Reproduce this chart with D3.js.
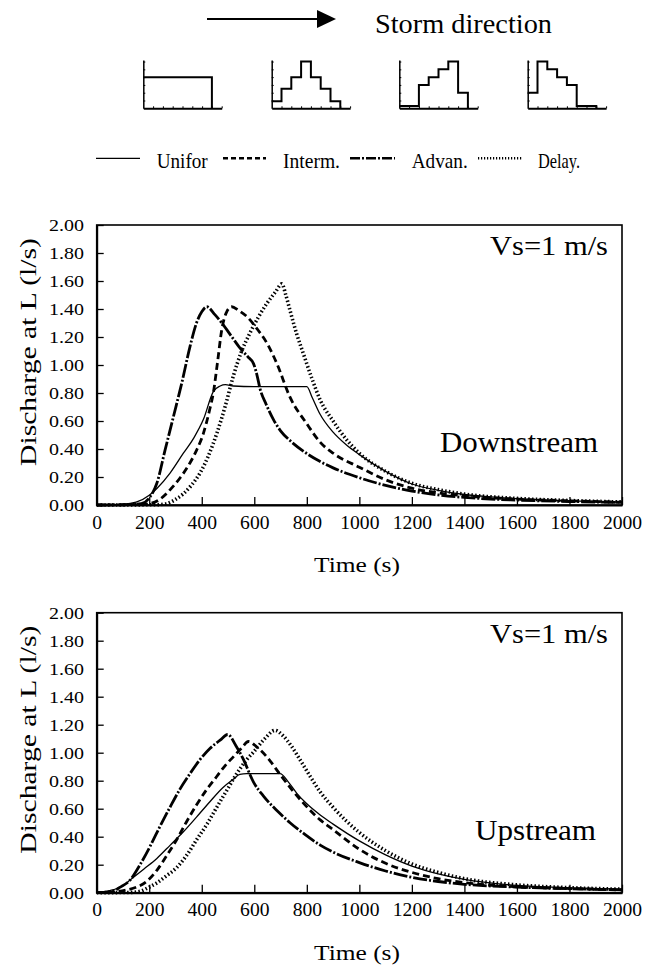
<!DOCTYPE html>
<html>
<head>
<meta charset="utf-8">
<script src="https://cdn.jsdelivr.net/npm/d3@7"></script>
<style>
  body { margin: 0; background: #fff; }
  text { font-family: "Liberation Serif", "Times New Roman", Times, serif; fill: #000; }
</style>
</head>
<body>
<div id="canvas"></div>
<script>
// tick values
var xTicks = [0, 200, 400, 600, 800, 1000, 1200, 1400, 1600, 1800, 2000];
var yTicks = [0, 0.2, 0.4, 0.6, 0.8, 1.0, 1.2, 1.4, 1.6, 1.8, 2.0];
var legendNames = ["Unifor", "Interm.", "Advan.", "Delay."];

// rainfall patterns (hyetographs), 7 intervals each
var hyetoUnifor = [4, 4, 4, 4, 4, 4, 4];
var hyetoInterm = [0.9, 2.5, 4, 6, 4, 2.5, 0.9];
var hyetoAdvan = [0.3, 0.3, 3, 4, 5, 6, 2];
var hyetoDelay = [2, 6, 5, 4, 3, 0.3, 0.3];

// downstream panel, [time s, discharge l/s]
var downUnifor = [[0,0],[100,0.005],[150,0.02],[200,0.07],[230,0.12],[280,0.23],[330,0.37],[370,0.48],[406,0.61],[444,0.81],[470,0.85],[490,0.86],[520,0.85],[600,0.845],[700,0.845],[800,0.845],[820,0.77],[850,0.65],[900,0.52],[950,0.43],[1000,0.36],[1100,0.24],[1200,0.15],[1300,0.105],[1400,0.075],[1500,0.058],[1600,0.046],[1800,0.03],[2000,0.02]];
var downInterm = [[0,0],[150,0.003],[200,0.01],[240,0.04],[280,0.11],[320,0.2],[355,0.3],[380,0.39],[406,0.51],[430,0.68],[444,0.8],[460,1.02],[476,1.25],[495,1.38],[514,1.416],[540,1.39],[575,1.34],[610,1.26],[650,1.15],[686,1.01],[736,0.77],[800,0.58],[850,0.45],[900,0.37],[1000,0.27],[1100,0.18],[1200,0.12],[1300,0.087],[1400,0.066],[1600,0.042],[1800,0.03],[2000,0.02]];
var downAdvan = [[0,0],[120,0.003],[170,0.01],[200,0.05],[229,0.155],[260,0.39],[292,0.63],[325,0.88],[355,1.13],[380,1.3],[400,1.38],[419,1.416],[450,1.36],[482,1.286],[515,1.2],[546,1.12],[575,1.06],[597,1.01],[610,0.93],[622,0.83],[645,0.72],[673,0.61],[700,0.53],[736,0.46],[790,0.38],[851,0.31],[900,0.265],[1000,0.195],[1100,0.14],[1200,0.1],[1300,0.072],[1400,0.054],[1600,0.035],[1800,0.025],[2000,0.018]];
var downDelay = [[0,0],[230,0.002],[267,0.01],[300,0.04],[330,0.08],[360,0.14],[394,0.23],[425,0.35],[457,0.51],[490,0.71],[520,0.92],[550,1.09],[584,1.23],[615,1.34],[648,1.44],[680,1.52],[705,1.58],[720,1.5],[736,1.39],[760,1.23],[787,1.08],[820,0.9],[851,0.75],[900,0.6],[950,0.47],[1000,0.37],[1100,0.24],[1200,0.155],[1300,0.11],[1400,0.078],[1600,0.047],[1800,0.032],[2000,0.022]];

// upstream panel
var upUnifor = [[0,0],[50,0.015],[100,0.05],[127,0.09],[180,0.17],[229,0.245],[280,0.34],[330,0.435],[380,0.54],[431,0.65],[480,0.75],[520,0.81],[545,0.845],[571,0.85],[698,0.85],[730,0.79],[762,0.71],[800,0.635],[851,0.555],[900,0.49],[1000,0.37],[1100,0.27],[1200,0.19],[1300,0.135],[1400,0.095],[1600,0.052],[1800,0.035],[2000,0.025]];
var upInterm = [[0,0],[60,0.005],[114,0.02],[152,0.04],[190,0.08],[229,0.16],[265,0.26],[305,0.38],[340,0.5],[381,0.63],[420,0.74],[457,0.83],[490,0.91],[520,0.97],[550,1.03],[578,1.08],[610,1.04],[648,0.97],[700,0.84],[750,0.72],[787,0.64],[851,0.52],[900,0.45],[1000,0.31],[1100,0.21],[1200,0.145],[1300,0.1],[1400,0.072],[1600,0.042],[1800,0.03],[2000,0.02]];
var upAdvan = [[0,0],[50,0.005],[90,0.04],[127,0.09],[165,0.2],[203,0.33],[240,0.47],[279,0.61],[317,0.74],[355,0.85],[393,0.95],[431,1.03],[470,1.09],[499,1.13],[530,1.05],[559,0.95],[597,0.79],[635,0.69],[690,0.58],[736,0.5],[790,0.42],[851,0.34],[900,0.29],[1000,0.215],[1100,0.155],[1200,0.11],[1300,0.08],[1400,0.06],[1600,0.04],[1800,0.028],[2000,0.02]];
var upDelay = [[0,0],[130,0.002],[165,0.01],[200,0.04],[229,0.07],[265,0.12],[305,0.18],[340,0.26],[381,0.38],[420,0.49],[457,0.61],[495,0.73],[533,0.85],[571,0.95],[600,1.01],[640,1.1],[679,1.16],[710,1.12],[740,1.05],[774,0.95],[813,0.83],[851,0.72],[900,0.61],[1000,0.43],[1100,0.3],[1200,0.205],[1300,0.145],[1400,0.1],[1600,0.056],[1800,0.036],[2000,0.025]];

// line styles: unifor, interm, advan, delay
var styles = [
  {w: 1.3, dash: null},
  {w: 2.8, dash: "7,4"},
  {w: 2.8, dash: "14,2,2,2"},
  {w: 3.6, dash: "1.5,2.3"}
];

var width = 657, height = 965;
var svg = d3.select("#canvas").append("svg")
  .attr("width", width)
  .attr("height", height);

function txt(g, x, y, s, size, len, anchor) {
  return g.append("text")
    .attr("x", x).attr("y", y)
    .attr("font-size", size + "px")
    .attr("text-anchor", anchor || "start")
    .attr("textLength", len)
    .attr("lengthAdjust", "spacingAndGlyphs")
    .text(s);
}

// ---- storm direction arrow
svg.append("line")
  .attr("x1", 207).attr("y1", 19).attr("x2", 320).attr("y2", 19)
  .attr("stroke", "#000").attr("stroke-width", 2);
svg.append("path")
  .attr("d", "M317,10 L336,19 L317,28 Z")
  .attr("fill", "#000");
txt(svg, 375, 33, "Storm direction", 27, 177);

// ---- hyetographs
var hyetos = [hyetoUnifor, hyetoInterm, hyetoAdvan, hyetoDelay];
var hyetoLeft = [143.3, 271.7, 399.3, 527.7];
hyetos.forEach((vals, i) => {
  var hx = d3.scaleLinear().domain([0, 8]).range([hyetoLeft[i], hyetoLeft[i] + 78.4]);
  var hy = d3.scaleLinear().domain([0, 6.2]).range([108.3, 60]);
  var g = svg.append("g");
  g.append("g")
    .attr("transform", "translate(0,108.3)")
    .call(d3.axisBottom(hx).tickValues([1, 2, 3, 4, 5, 6, 7, 8]).tickSizeInner(-2).tickSizeOuter(0).tickFormat(""))
    .call(a => a.select(".domain").attr("stroke-width", 2));
  g.append("g")
    .attr("transform", "translate(" + hyetoLeft[i] + ",0)")
    .call(d3.axisLeft(hy).tickValues([1, 2, 3, 4, 5, 6]).tickSizeInner(-2).tickSizeOuter(0).tickFormat(""))
    .call(a => a.select(".domain").attr("stroke-width", 1.5));
  var pts = vals.map((v, k) => [k, v]);
  pts.push([vals.length, vals[vals.length - 1]]);
  pts.push([vals.length, 0]);
  g.append("path")
    .attr("d", d3.line().x(d => hx(d[0])).y(d => hy(d[1])).curve(d3.curveStepAfter)(pts))
    .attr("fill", "none")
    .attr("stroke", "#000")
    .attr("stroke-width", 2);
});

// ---- legend
var legLines = [[96, 140], [223, 266], [350, 395], [478, 523]];
var legText = [[156.7, 51], [283, 57], [411.7, 56], [538, 42]];
legendNames.forEach((n, i) => {
  svg.append("line")
    .attr("x1", legLines[i][0]).attr("x2", legLines[i][1])
    .attr("y1", 158.3).attr("y2", 158.3)
    .attr("stroke", "#000")
    .attr("stroke-width", i == 0 ? 1.3 : 2.6)
    .attr("stroke-dasharray", i == 1 ? "5,3" : (i == 2 ? "10,2,2,2" : (i == 3 ? "1.2,1.8" : null)));
  txt(svg, legText[i][0], 168.3, n, 21, legText[i][1]);
});

// ---- discharge panels
function panel(top, series, label, labelX, labelLen) {
  var x = d3.scaleLinear().domain([0, 2000]).range([96.7, 622]);
  var y = d3.scaleLinear().domain([0, 2]).range([top + 280, top]);
  var g = svg.append("g");

  g.append("g")
    .attr("transform", "translate(0," + (top + 280) + ")")
    .call(d3.axisBottom(x).tickValues(xTicks).tickSizeInner(-8).tickSizeOuter(0).tickFormat(d3.format("d")))
    .call(a => {
      a.select(".domain").attr("stroke-width", 2);
      a.selectAll("line").attr("stroke-width", 1.3);
      a.selectAll("text")
        .attr("y", 23.5).attr("dy", null)
        .attr("font-size", "18px")
        .attr("textLength", d => String(d).length * 9.8)
        .attr("lengthAdjust", "spacingAndGlyphs");
    });

  g.append("g")
    .attr("transform", "translate(96.7,0)")
    .call(d3.axisLeft(y).tickValues(yTicks).tickSizeInner(-7).tickSizeOuter(0).tickFormat(d3.format(".2f")))
    .call(a => {
      a.select(".domain").attr("stroke-width", 2);
      a.selectAll("line").attr("stroke-width", 1.3);
      a.selectAll("text")
        .attr("x", -12.7)
        .attr("font-size", "17.5px")
        .attr("textLength", 35)
        .attr("lengthAdjust", "spacingAndGlyphs");
    });

  // frame
  g.append("rect")
    .attr("x", 96.7).attr("y", top)
    .attr("width", 622 - 96.7).attr("height", 280)
    .attr("fill", "none").attr("stroke", "#000").attr("stroke-width", 1.6);

  var line = d3.line()
    .x(d => x(d[0]))
    .y(d => y(d[1]))
    .curve(d3.curveMonotoneX);

  series.forEach((s, i) => {
    g.append("path")
      .attr("d", line(s))
      .attr("fill", "none")
      .attr("stroke", "#000")
      .attr("stroke-width", styles[i].w)
      .attr("stroke-dasharray", styles[i].dash);
  });

  txt(g, 608, top + 30, "Vs=1 m/s", 28, 118, "end");
  txt(g, labelX, top + 227, label, 30, labelLen);

  // axis titles
  txt(g, 357, top + 347, "Time (s)", 21, 86, "middle");
  g.append("text")
    .attr("transform", "translate(36," + (top + 127) + ") rotate(-90)")
    .attr("font-size", "23px")
    .attr("text-anchor", "middle")
    .attr("textLength", 228)
    .attr("lengthAdjust", "spacingAndGlyphs")
    .text("Discharge at L (l/s)");
}

panel(225, [downUnifor, downInterm, downAdvan, downDelay], "Downstream", 440, 158);
panel(612.7, [upUnifor, upInterm, upAdvan, upDelay], "Upstream", 475, 121);
</script>
</body>
</html>
